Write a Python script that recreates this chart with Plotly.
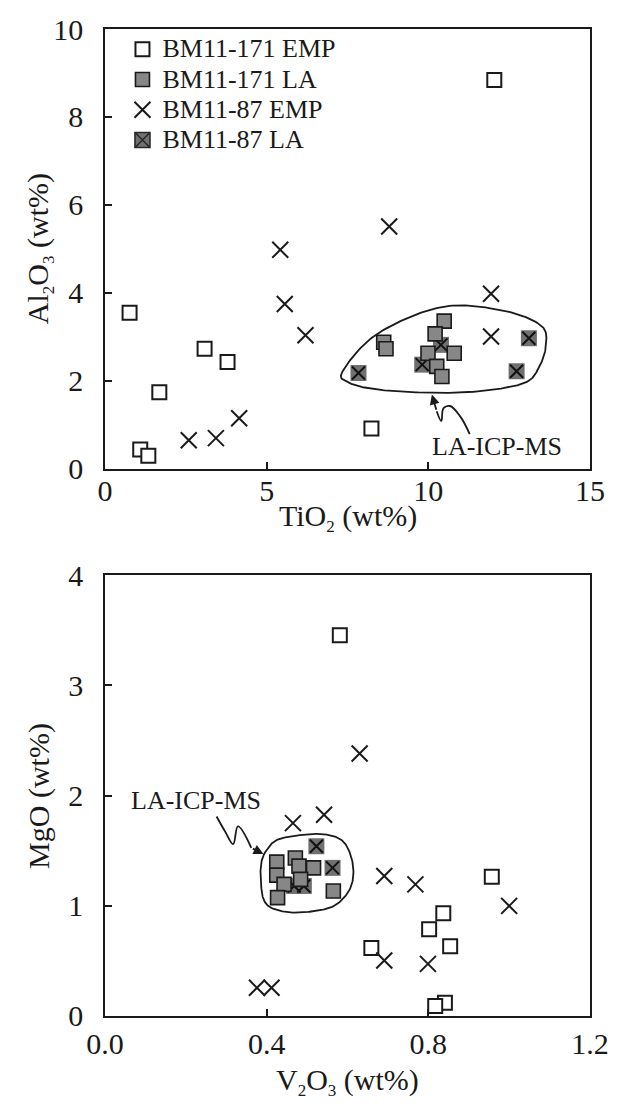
import numpy as np
import plotly.graph_objects as go

# ---- Upper panel: TiO2 vs Al2O3 (wt%) ----
emp171_ti = [0.76, 3.08, 3.79, 1.68, 1.09, 1.34, 8.24, 12.04]
emp171_al = [3.55, 2.73, 2.43, 1.74, 0.44, 0.30, 0.92, 8.84]
la171_ti = [8.62, 8.69, 10.49, 10.21, 9.99, 10.80, 10.26, 10.42]
la171_al = [2.88, 2.73, 3.36, 3.07, 2.63, 2.63, 2.33, 2.10]
emp87_ti = [5.42, 5.56, 6.20, 4.15, 2.59, 3.43, 8.79, 11.94, 11.94]
emp87_al = [4.98, 3.75, 3.04, 1.15, 0.65, 0.70, 5.51, 3.98, 3.01]
la87_ti = [7.84, 13.11, 12.73, 9.81, 10.39]
la87_al = [2.18, 2.97, 2.22, 2.37, 2.82]

# ---- Lower panel: V2O3 vs MgO (wt%) ----
emp171_v = [0.581, 0.957, 0.837, 0.802, 0.854, 0.659, 0.841, 0.817]
emp171_mg = [3.455, 1.263, 0.933, 0.788, 0.632, 0.617, 0.121, 0.090]
la171_v = [0.425, 0.425, 0.471, 0.480, 0.516, 0.484, 0.443, 0.427, 0.565]
la171_mg = [1.396, 1.278, 1.434, 1.360, 1.344, 1.240, 1.194, 1.074, 1.134]
emp87_v = [0.630, 0.465, 0.542, 0.691, 0.768, 1.000, 0.691, 0.799, 0.376, 0.412]
emp87_mg = [2.382, 1.750, 1.826, 1.270, 1.194, 0.999, 0.503, 0.473, 0.256, 0.256]
la87_v = [0.523, 0.563, 0.468, 0.492]
la87_mg = [1.540, 1.344, 1.180, 1.180]

# Hand-drawn outlines around the LA-ICP-MS analyses, and the squiggly pointers
# (pointer paths start at the arrow tip)
ring_top_x = [7.35, 8.44, 10.42, 12.25, 13.47, 13.64, 13.41, 12.96, 11.64, 10.11, 8.48, 7.57]
ring_top_y = [2.22, 3.08, 3.68, 3.61, 3.27, 2.82, 2.29, 1.95, 1.77, 1.73, 1.80, 1.95]
ring_bot_x = [0.398, 0.427, 0.492, 0.549, 0.589, 0.610, 0.614, 0.598, 0.557, 0.476, 0.419, 0.394, 0.386, 0.386]
ring_bot_y = [1.495, 1.600, 1.645, 1.645, 1.585, 1.434, 1.254, 1.104, 0.983, 0.938, 0.969, 1.044, 1.194, 1.375]
wiggle_top_x = [10.11, 10.26, 10.40, 10.47, 10.67, 10.98, 11.28]
wiggle_top_y = [1.69, 1.31, 1.09, 1.38, 1.43, 1.20, 0.79]
wiggle_bot_x = [0.392, 0.362, 0.329, 0.317, 0.297, 0.276]
wiggle_bot_y = [1.470, 1.525, 1.720, 1.560, 1.675, 1.810]

FONT = "Liberation Serif, Times New Roman, serif"
INK = "#1a1a1a"
GREY171 = "#878787"
GREY87 = "#707070"
SUB = '<sub><span style="font-size:17px">{}</span></sub>'


def closed_curve(xs, ys, n=24):
    """Periodic Catmull-Rom spline through the given control points."""
    pts = np.column_stack([xs, ys]).astype(float)
    m = len(pts)
    t = np.linspace(0, 1, n, endpoint=False)[:, None]
    segs = []
    for i in range(m):
        p0, p1, p2, p3 = pts[(i - 1) % m], pts[i], pts[(i + 1) % m], pts[(i + 2) % m]
        segs.append(0.5 * (2 * p1 + (-p0 + p2) * t
                           + (2 * p0 - 5 * p1 + 4 * p2 - p3) * t ** 2
                           + (-p0 + 3 * p1 - 3 * p2 + p3) * t ** 3))
    segs.append(pts[:1])
    c = np.vstack(segs)
    return c[:, 0], c[:, 1]


def legend_name(s):
    return '<span style="font-size:26px">{}</span>'.format(s)


fig = go.Figure()


def add_panel(xa, ya, e171x, e171y, l171x, l171y, e87x, e87y, l87x, l87y,
              ringx, ringy, wigx, wigy, legend):
    cx, cy = closed_curve(ringx, ringy)
    fig.add_trace(go.Scatter(x=cx, y=cy, mode="lines", xaxis=xa, yaxis=ya,
                             line=dict(color=INK, width=1.8), showlegend=False,
                             hoverinfo="skip"))
    fig.add_trace(go.Scatter(x=wigx[1:], y=wigy[1:], mode="lines", xaxis=xa, yaxis=ya,
                             line=dict(color=INK, width=1.8, shape="spline", smoothing=1.1),
                             showlegend=False, hoverinfo="skip"))
    fig.add_trace(go.Scatter(x=e171x, y=e171y, mode="markers", xaxis=xa, yaxis=ya,
                             name=legend_name("BM11-171 EMP"), showlegend=legend, legendrank=1,
                             marker=dict(symbol="square", size=14, color="white",
                                         line=dict(color=INK, width=2))))
    fig.add_trace(go.Scatter(x=e87x, y=e87y, mode="markers", xaxis=xa, yaxis=ya,
                             name=legend_name("BM11-87 EMP"), showlegend=legend, legendrank=3,
                             marker=dict(symbol="x-thin-open", size=16, color=INK,
                                         line=dict(color=INK, width=2))))
    fig.add_trace(go.Scatter(x=l87x, y=l87y, mode="markers", xaxis=xa, yaxis=ya,
                             showlegend=False,
                             marker=dict(symbol="square", size=16, color=GREY87,
                                         line=dict(width=0))))
    fig.add_trace(go.Scatter(x=l87x, y=l87y, mode="markers", xaxis=xa, yaxis=ya,
                             showlegend=False,
                             marker=dict(symbol="x-thin-open", size=13, color="#111",
                                         line=dict(color="#111", width=2))))
    fig.add_trace(go.Scatter(x=l171x, y=l171y, mode="markers", xaxis=xa, yaxis=ya,
                             name=legend_name("BM11-171 LA"), showlegend=legend, legendrank=2,
                             marker=dict(symbol="square", size=14, color=GREY171,
                                         line=dict(color=INK, width=1.6))))
    if legend:
        fig.add_trace(go.Scatter(x=[None], y=[None], mode="markers", xaxis=xa, yaxis=ya,
                                 name=legend_name("BM11-87 LA"), legendrank=4,
                                 marker=dict(symbol="square-x", size=15, color=GREY87,
                                             line=dict(color="#2a2a2a", width=1.6))))
    # arrowhead at the tip of the squiggle
    fig.add_annotation(x=wigx[0], y=wigy[0], ax=wigx[1], ay=wigy[1], xref=xa, yref=ya,
                       axref=xa, ayref=ya, text="", showarrow=True, arrowhead=2,
                       arrowsize=1.1, arrowwidth=1.8, arrowcolor=INK)


add_panel("x", "y", emp171_ti, emp171_al, la171_ti, la171_al, emp87_ti, emp87_al,
          la87_ti, la87_al, ring_top_x, ring_top_y, wiggle_top_x, wiggle_top_y, True)
add_panel("x2", "y2", emp171_v, emp171_mg, la171_v, la171_mg, emp87_v, emp87_mg,
          la87_v, la87_mg, ring_bot_x, ring_bot_y, wiggle_bot_x, wiggle_bot_y, False)

fig.add_annotation(x=12.13, y=0.50, xref="x", yref="y", text="LA-ICP-MS",
                   showarrow=False, font=dict(family=FONT, size=26, color=INK))
fig.add_annotation(x=0.2256, y=1.952, xref="x2", yref="y2", text="LA-ICP-MS",
                   showarrow=False, font=dict(family=FONT, size=26, color=INK))

# Axis titles
title_font = dict(family=FONT, size=30, color=INK)
title_common = dict(xref="paper", yref="paper", showarrow=False, font=title_font,
                    xanchor="center", yanchor="middle")
fig.add_annotation(text="TiO" + SUB.format(2) + " (wt%)", x=0.5, y=0.505, **title_common)
fig.add_annotation(text="V" + SUB.format(2) + "O" + SUB.format(3) + " (wt%)", x=0.5,
                   y=-0.066, **title_common)
fig.add_annotation(text="Al" + SUB.format(2) + "O" + SUB.format(3) + " (wt%)", x=-0.136,
                   y=0.777, textangle=-90, **title_common)
fig.add_annotation(text="MgO (wt%)", x=-0.136, y=0.223, textangle=-90, **title_common)

axis_common = dict(showline=True, linecolor=INK, linewidth=1.6, mirror=True,
                   ticks="inside", ticklen=7, tickwidth=1.6, tickcolor=INK,
                   showgrid=False, zeroline=False,
                   tickfont=dict(family=FONT, size=30, color=INK))

fig.update_layout(
    width=621, height=1103,
    margin=dict(l=105, r=24, t=22, b=87),
    paper_bgcolor="white", plot_bgcolor="white",
    font=dict(family=FONT, color=INK),
    xaxis=dict(axis_common, range=[0, 15], tickvals=[0, 5, 10, 15], anchor="y",
               ticklabelstandoff=-6),
    yaxis=dict(axis_common, range=[0, 10], tickvals=[0, 2, 4, 6, 8, 10], anchor="x",
               domain=[0.5543, 1.0], ticklabelstandoff=14),
    xaxis2=dict(axis_common, range=[0, 1.2], tickvals=[0, 0.4, 0.8, 1.2], tickformat=".1f",
                anchor="y2", ticklabelstandoff=0),
    yaxis2=dict(axis_common, range=[0, 4], tickvals=[0, 1, 2, 3, 4], anchor="x2",
                domain=[0.0, 0.4467], ticklabelstandoff=14),
    legend=dict(x=0.036, y=1.0, xref="paper", yref="paper", xanchor="left", yanchor="top",
                bgcolor="rgba(0,0,0,0)", borderwidth=0, tracegroupgap=0,
                font=dict(family=FONT, size=21, color=INK), itemwidth=30),
)

fig.write_html("out.html")
